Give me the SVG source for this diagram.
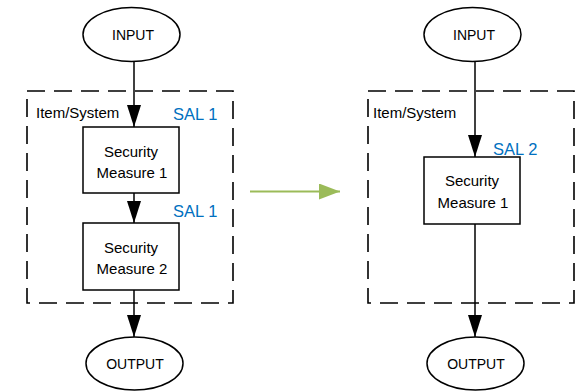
<svg xmlns="http://www.w3.org/2000/svg" width="580" height="391" viewBox="0 0 580 391">
  <style>
    .term { fill: #ffffff; stroke: #000000; stroke-width: 1.5; }
    .box { fill: #ffffff; stroke: #000000; stroke-width: 1.5; }
    .scope { fill: none; stroke: #000000; stroke-width: 1.6; stroke-dasharray: 18 9; }
    .flow { stroke: #000000; stroke-width: 1.5; fill: none; marker-end: url(#head); }
    .lbl { font-family: "Liberation Sans", Arial, sans-serif; font-size: 15px; fill: #000000; }
    .term-lbl { font-family: "Liberation Sans", Arial, sans-serif; font-size: 14px; fill: #000000; text-anchor: middle; }
    .node-lbl { font-family: "Liberation Sans", Arial, sans-serif; font-size: 15px; fill: #000000; text-anchor: middle; }
    .sal { font-family: "Liberation Sans", Arial, sans-serif; font-size: 16.5px; fill: #0070C0; }
  </style>
  <defs>
    <marker id="head" markerUnits="userSpaceOnUse" markerWidth="22" markerHeight="14" refX="22" refY="7" orient="auto">
      <path d="M0,0 L22,7 L0,14 Z" fill="#000000"/>
    </marker>
    <marker id="green-head" markerUnits="userSpaceOnUse" markerWidth="21" markerHeight="16" refX="21" refY="8" orient="auto">
      <path d="M0,0 L21,8 L0,16 Z" fill="#9BBB59"/>
    </marker>
  </defs>

  <rect width="580" height="391" fill="#ffffff"/>

  <!-- system boundaries -->
  <g id="system-left">
    <rect class="scope" x="27" y="91" width="206" height="212"/>
    <text class="lbl" x="36" y="118">Item/System</text>
  </g>
  <g id="system-right">
    <rect class="scope" x="368" y="91" width="206" height="212"/>
    <text class="lbl" x="373" y="118">Item/System</text>
  </g>

  <!-- connectors -->
  <g id="connectors">
    <line class="flow" x1="134" y1="61" x2="134" y2="127"/>
    <line class="flow" x1="134" y1="193" x2="134" y2="223"/>
    <line class="flow" x1="134" y1="290" x2="134" y2="337"/>
    <line class="flow" x1="475" y1="61" x2="475" y2="157"/>
    <line class="flow" x1="475" y1="224" x2="475" y2="337"/>
    <line x1="250" y1="191.5" x2="340" y2="191.5" stroke="#9BBB59" stroke-width="2.2" marker-end="url(#green-head)"/>
  </g>

  <!-- left chain -->
  <g id="input-left">
    <ellipse class="term" cx="131.5" cy="34.5" rx="48.5" ry="27"/>
    <text class="term-lbl" x="133" y="40">INPUT</text>
  </g>
  <g id="measure-1-left">
    <rect class="box" x="83" y="127" width="96" height="66"/>
    <text class="node-lbl" x="131" y="157">Security</text>
    <text class="node-lbl" x="132" y="178">Measure 1</text>
  </g>
  <g id="measure-2-left">
    <rect class="box" x="83" y="223" width="96" height="67"/>
    <text class="node-lbl" x="131" y="253">Security</text>
    <text class="node-lbl" x="132" y="274">Measure 2</text>
  </g>
  <g id="output-left">
    <ellipse class="term" cx="134.5" cy="363.5" rx="48.5" ry="26.5"/>
    <text class="term-lbl" x="135" y="369">OUTPUT</text>
  </g>
  <text class="sal" x="173" y="120">SAL 1</text>
  <text class="sal" x="173" y="217">SAL 1</text>

  <!-- right chain -->
  <g id="input-right">
    <ellipse class="term" cx="472.5" cy="34.5" rx="48.5" ry="27"/>
    <text class="term-lbl" x="474" y="40">INPUT</text>
  </g>
  <g id="measure-1-right">
    <rect class="box" x="424" y="157" width="96" height="67"/>
    <text class="node-lbl" x="472" y="186">Security</text>
    <text class="node-lbl" x="473" y="208">Measure 1</text>
  </g>
  <g id="output-right">
    <ellipse class="term" cx="475.5" cy="363.5" rx="48.5" ry="26.5"/>
    <text class="term-lbl" x="476" y="369">OUTPUT</text>
  </g>
  <text class="sal" x="493" y="155">SAL 2</text>
</svg>
